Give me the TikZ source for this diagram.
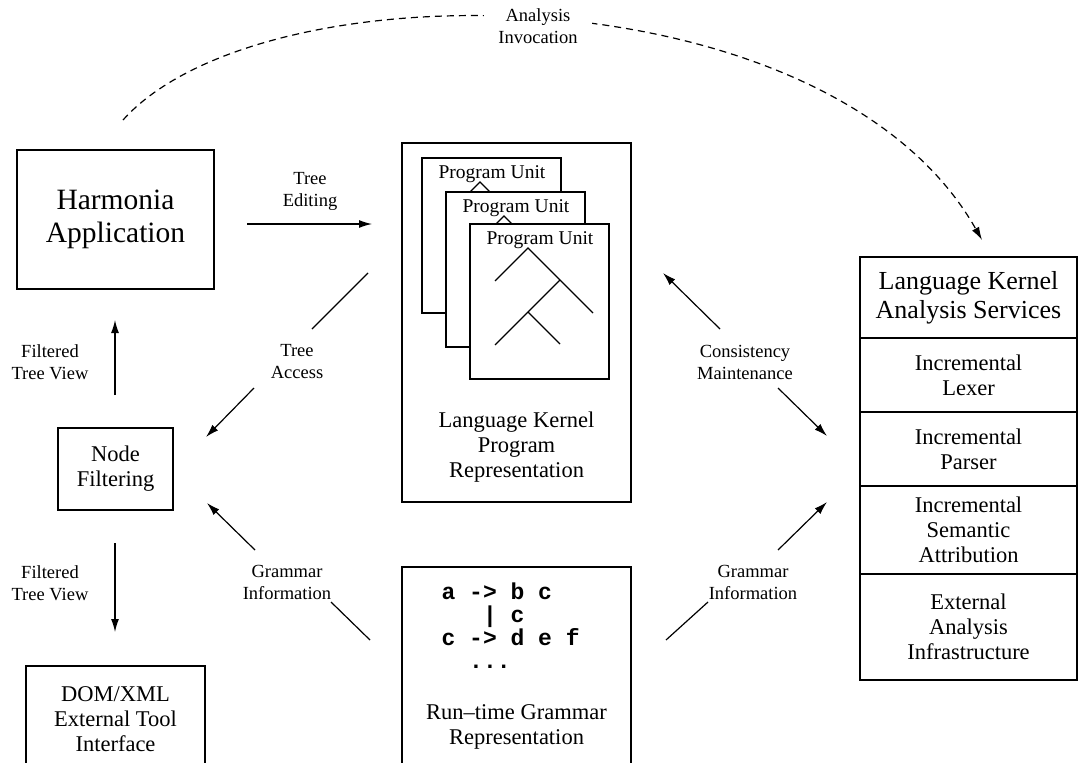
\documentclass[tikz,border=0pt]{standalone}
\usepackage{fontspec}
\setmainfont{Liberation Serif}
\setmonofont{Liberation Mono}
\usetikzlibrary{arrows.meta,positioning}
\newcommand\fsApp{\fontsize{29.5}{33}\selectfont}
\newcommand\fsHdr{\fontsize{26}{29}\selectfont}
\newcommand\fsBox{\fontsize{22.5}{25}\selectfont}
\newcommand\fsLbl{\fontsize{18.5}{22}\selectfont}
\newcommand\fsUnit{\fontsize{19.5}{22}\selectfont}
\newcommand\fsGram{\fontsize{23}{23}\selectfont}
\begin{document}
\begin{tikzpicture}[x=1pt,y=-1pt,line width=1.2pt,
  >={Latex[length=13pt,width=8pt]},
  box/.style={draw,line width=1.3pt,inner sep=0pt,outer sep=0pt,align=center,font=\fsBox},
  txt/.style={align=center,font=\fsBox,inner sep=0pt},
  lbl/.style={align=center,font=\fsLbl,inner sep=0pt}]
\useasboundingbox (0,0) rectangle (1079,763);
\node[box,font=\fsApp,minimum width=197pt,minimum height=139pt] (app) at (115.5,219.5) {Harmonia\\Application};
\node[box,minimum width=115pt,minimum height=82pt] (filter) at (115.5,469) {Node\\Filtering};
\node[box,minimum width=179pt,minimum height=106pt] (dom) at (115.5,719) {DOM/XML\\External Tool\\Interface};
\node[box,minimum width=229pt,minimum height=359pt] (prog) at (516.5,322.5) {};
\foreach \dx/\dy in {0/0,24/34,48/66}{
  \begin{scope}[shift={(422+\dx,158+\dy)}]
  \draw[fill=white] (0,0) rectangle (139,155);
  \node[font=\fsUnit,anchor=base,inner sep=0pt] at (70,20) {Program Unit};
  \draw (25,57) -- (58,24) -- (123,89);
  \draw (90,56) -- (25,121);
  \draw (58,88) -- (90,120);
  \end{scope}
}
\node[txt] (progtxt) at (516.5,447) {Language Kernel\\Program\\Representation};
\node[box,minimum width=229pt,minimum height=222pt] (gram) at (516.5,678) {};
\node[anchor=west,align=left,inner sep=0pt,font=\ttfamily\bfseries\fsGram] (rules) at (441,626)
  {a -> b c\\\phantom{a->}| c\\c -> d e f\\\phantom{aa}...};
\node[txt] (gramtxt) at (516.5,727) {Run--time Grammar\\Representation};
\node[box,font=\fsHdr,minimum width=217pt,minimum height=81pt] (svc) at (968.5,297.5) {Language Kernel\\Analysis Services};
\node[box,minimum width=217pt,minimum height=74pt,below=0pt of svc] (lexer) {Incremental\\Lexer};
\node[box,minimum width=217pt,minimum height=74pt,below=0pt of lexer] (parser) {Incremental\\Parser};
\node[box,minimum width=217pt,minimum height=88pt,below=0pt of parser] (sem) {Incremental\\Semantic\\Attribution};
\node[box,minimum width=217pt,minimum height=106pt,below=0pt of sem] (ext) {External\\Analysis\\Infrastructure};
\coordinate (editA) at (247,224);
\coordinate (editB) at (372,224);
\coordinate (upA) at (115,395);
\coordinate (upB) at (115,320);
\coordinate (downA) at (115,543);
\coordinate (downB) at (115,632);
\coordinate (accA) at (368,273);
\coordinate (accB) at (312,329);
\coordinate (accC) at (254,388);
\coordinate (accD) at (206,437);
\coordinate (conA) at (720,329);
\coordinate (conB) at (663,273);
\coordinate (conC) at (778,388);
\coordinate (conD) at (827,436);
\coordinate (glA) at (255,550);
\coordinate (glB) at (207,503);
\coordinate (glC) at (331,602);
\coordinate (glD) at (370,640);
\coordinate (grA) at (778,550);
\coordinate (grB) at (827,502);
\coordinate (grC) at (708,602);
\coordinate (grD) at (666,640);
\coordinate (invA) at (123,120);
\coordinate (invB) at (982,240);
\draw[->] (editA) -- (editB);
\draw[->] (upA) -- (upB);
\draw[->] (downA) -- (downB);
\draw (accA) -- (accB);
\draw[->] (accC) -- (accD);
\draw[->] (conA) -- (conB);
\draw[->] (conC) -- (conD);
\draw[->] (glA) -- (glB);
\draw (glC) -- (glD);
\draw[->] (grA) -- (grB);
\draw (grC) -- (grD);
\draw[->,dash pattern=on 7pt off 5pt] (invA) .. controls (263,-36) and (829,-31) .. (invB);
\node[lbl] (editlbl) at (310,191) {Tree\\Editing};
\node[lbl] (uplbl) at (50,362) {Filtered\\Tree View};
\node[lbl] (downlbl) at (50,583) {Filtered\\Tree View};
\node[lbl] (acclbl) at (297,362) {Tree\\Access};
\node[lbl] (conlbl) at (745,362) {Consistency\\Maintenance};
\node[lbl] (gllbl) at (287,582) {Grammar\\Information};
\node[lbl] (grlbl) at (753,582) {Grammar\\Information};
\node[lbl,fill=white,inner xsep=14pt,inner ysep=2pt] (invlbl) at (538,26) {Analysis\\Invocation};
\end{tikzpicture}
\end{document}
